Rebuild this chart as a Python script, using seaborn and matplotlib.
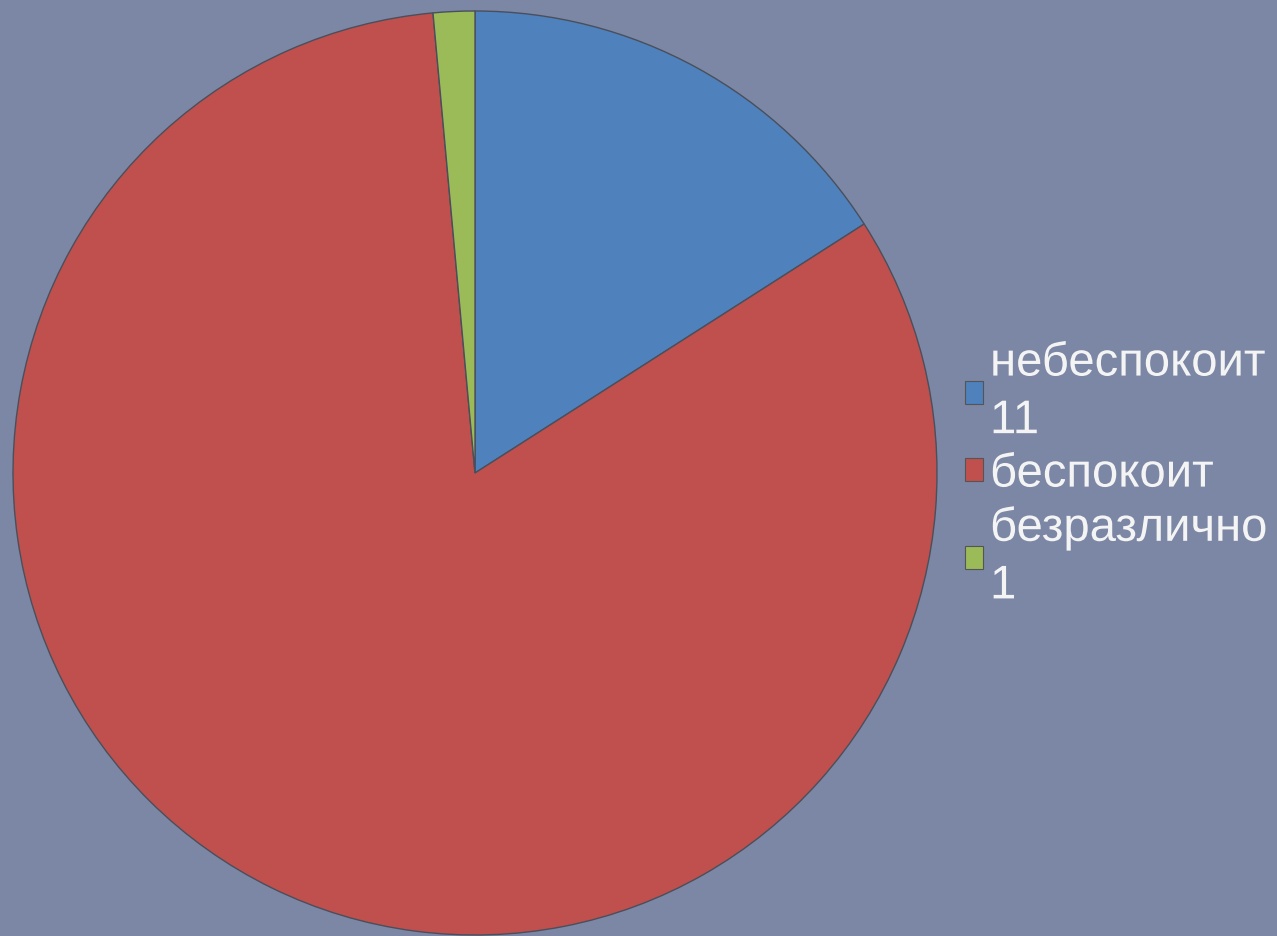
import matplotlib.pyplot as plt
import matplotlib.patches as mpatches
import matplotlib.patheffects as pe
import seaborn as sns

# Data
labels = ['небеспокоит\n11', 'беспокоит', 'безразлично\n1']
values = [11, 57, 1]
colors = ['#4f81bd', '#c0504d', '#9bbb59']

sns.set_theme(style='white')
plt.rcParams['font.family'] = ['Liberation Sans', 'DejaVu Sans']

bg = '#7b87a4'
fig = plt.figure(figsize=(12.77, 9.37), dpi=100, facecolor=bg)

# Pie axes placed so the circle sits on the left
cx, cy, r = 475, 474, 462
ax = fig.add_axes([(cx - r) / 1277, (937 - cy - r) / 937, 2 * r / 1277, 2 * r / 937])
ax.set_facecolor(bg)
palette = sns.color_palette(colors)
ax.pie(values, colors=palette, startangle=90, counterclock=False,
       wedgeprops=dict(edgecolor='#4a4f5c', linewidth=1.0))
ax.set_xlim(-1, 1)
ax.set_ylim(-1, 1)
ax.set_aspect('equal')
ax.axis('off')

# Legend
handles = [mpatches.Patch(facecolor=c, edgecolor='#555555', linewidth=0.8) for c in palette]
leg = fig.legend(handles, labels, loc='center left', bbox_to_anchor=(965 / 1277, (937 - 476) / 937),
                 frameon=False, fontsize=34, handlelength=0.38, handleheight=0.38,
                 handletextpad=0.15, labelspacing=0.2, borderaxespad=0, borderpad=0)
for t in leg.get_texts():
    t.set_color('#f4f4f4')
    t.set_linespacing(1.4)
    t.set_path_effects([pe.SimpleLineShadow(offset=(1, -1), shadow_color='#4a5060', alpha=0.6),
                        pe.Normal()])

fig.savefig('out.png', dpi=100, facecolor=bg)
